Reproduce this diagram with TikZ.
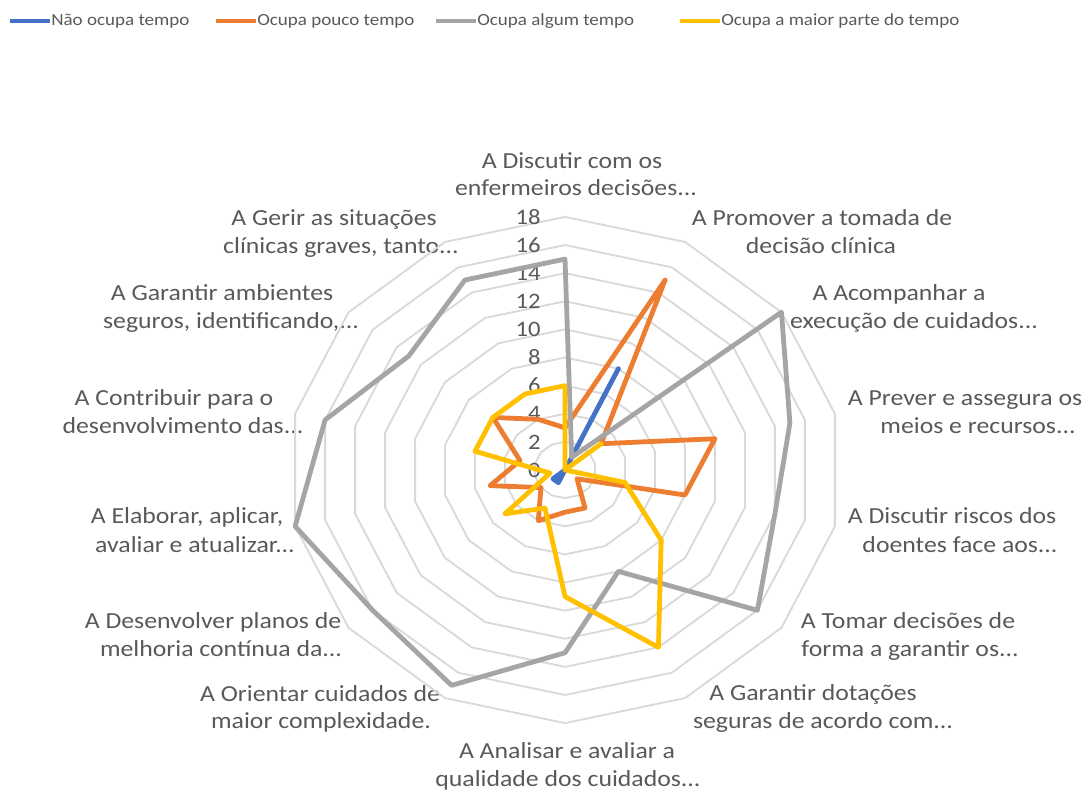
\documentclass[tikz,border=0pt]{standalone}
\usepackage{fontspec}
\setmainfont{Carlito}[FakeStretch=1.12]
\definecolor{txt}{HTML}{595959}
\definecolor{gridc}{HTML}{D9D9D9}
\definecolor{sblue}{HTML}{4472C4}
\definecolor{sorange}{HTML}{ED7D31}
\definecolor{sgray}{HTML}{A5A5A5}
\definecolor{syellow}{HTML}{FFC000}
\begin{document}
\begin{tikzpicture}[x=0.75pt,y=-0.75pt,
  lab/.style={text=txt, font=\fontsize{17.25pt}{20pt}\selectfont, anchor=base, inner sep=0pt},
  ticklab/.style={text=txt, font=\fontsize{16.5pt}{20pt}\selectfont, anchor=east, inner sep=0pt},
  leg/.style={text=txt, font=\fontsize{12.75pt}{15pt}\selectfont, anchor=west, inner sep=0pt},
  ring/.style={draw=gridc, line width=1.4pt},
  ser/.style={line width=3.6pt, line join=round, line cap=round},
]
\useasboundingbox (0,0) rectangle (1088,790);

% legend
\coordinate (lb1) at (10,21); \coordinate (lb2) at (50,21);
\coordinate (lo1) at (216,21); \coordinate (lo2) at (256,21);
\coordinate (lg1) at (436,21); \coordinate (lg2) at (476,21);
\coordinate (ly1) at (680,21); \coordinate (ly2) at (720,21);
\draw[ser, sblue, line cap=butt] (lb1) -- (lb2);
\draw[ser, sorange, line cap=butt] (lo1) -- (lo2);
\draw[ser, sgray, line cap=butt] (lg1) -- (lg2);
\draw[ser, syellow, line cap=butt] (ly1) -- (ly2);
\node[leg] (t1) at (51,21) {Não ocupa tempo};
\node[leg] (t2) at (257,21) {Ocupa pouco tempo};
\node[leg] (t3) at (477,21) {Ocupa algum tempo};
\node[leg] (t4) at (721,21) {Ocupa a maior parte do tempo};

% category labels
\node[lab] (c0a) at (572,168) {A Discutir com os};
\node[lab] (c0b) at (576,195) {enfermeiros decisões...};
\node[lab] (c1a) at (822,225) {A Promover a tomada de};
\node[lab] (c1b) at (821,253) {decisão clínica};
\node[lab] (c2a) at (899,300) {A Acompanhar a};
\node[lab] (c2b) at (914,328) {execução de cuidados...};
\node[lab] (c3a) at (965,405) {A Prever e assegura os};
\node[lab] (c3b) at (978,433) {meios e recursos...};
\node[lab] (c4a) at (952,523) {A Discutir riscos dos};
\node[lab] (c4b) at (960,552) {doentes face aos...};
\node[lab] (c5a) at (908,628) {A Tomar decisões de};
\node[lab] (c5b) at (910,656) {forma a garantir os...};
\node[lab] (c6a) at (813,700) {A Garantir dotações};
\node[lab] (c6b) at (823,728) {seguras de acordo com...};
\node[lab] (c7a) at (567,758) {A Analisar e avaliar a};
\node[lab] (c7b) at (568,786) {qualidade dos cuidados...};
\node[lab] (c8a) at (320,701) {A Orientar cuidados de};
\node[lab] (c8b) at (321,728) {maior complexidade.};
\node[lab] (c9a) at (213,628) {A Desenvolver planos de};
\node[lab] (c9b) at (221,656) {melhoria contínua da...};
\node[lab] (c10a) at (187,523) {A Elaborar, aplicar,};
\node[lab] (c10b) at (195,552) {avaliar e atualizar...};
\node[lab] (c11a) at (174,405) {A Contribuir para o};
\node[lab] (c11b) at (183,433) {desenvolvimento das...};
\node[lab] (c12a) at (222,300) {A Garantir ambientes};
\node[lab] (c12b) at (231,328) {seguros, identificando,...};
\node[lab] (c13a) at (334,225) {A Gerir as situações};
\node[lab] (c13b) at (341,253) {clínicas graves, tanto...};

\begin{scope}[shift={(565,470)}, x=11.535pt, y=10.545pt]
  % grid rings
  \foreach \r in {2,4,...,18} {
    \draw[ring] (90:\r) \foreach \k in {1,...,13} { -- ({90-\k*360/14}:\r) } -- cycle;
  }
  % axis value labels
  \foreach \v in {0,2,...,18} {
    \node[ticklab] (v\v) at (-1.57,\v) {\v};
  }
  % series
  \draw[ser, sblue] (90:0) -- (64.2857:8) -- (38.5714:0) -- (12.8571:0) -- (-12.8571:0)
    -- (-38.5714:0) -- (-64.2857:0) -- (-90:0) -- (-115.7143:1) -- (-141.4286:1)
    -- (-167.1429:0) -- (-192.8571:0) -- (-218.5714:0) -- (-244.2857:0) -- cycle;
  \draw[ser, sorange] (90:3) -- (64.2857:15) -- (38.5714:3) -- (12.8571:10) -- (-12.8571:8)
    -- (-38.5714:1) -- (-64.2857:3) -- (-90:3) -- (-115.7143:4) -- (-141.4286:2)
    -- (-167.1429:5) -- (-192.8571:3) -- (-218.5714:6) -- (-244.2857:4) -- cycle;
  \draw[ser, sgray] (90:15) -- (64.2857:1) -- (38.5714:18) -- (12.8571:15) -- (-12.8571:14)
    -- (-38.5714:16) -- (-64.2857:8) -- (-90:13) -- (-115.7143:17) -- (-141.4286:16)
    -- (-167.1429:18) -- (-192.8571:16) -- (-218.5714:13) -- (-244.2857:15) -- cycle;
  \draw[ser, syellow] (90:6) -- (64.2857:0) -- (38.5714:3) -- (12.8571:0) -- (-12.8571:4)
    -- (-38.5714:8) -- (-64.2857:14) -- (-90:9) -- (-115.7143:3) -- (-141.4286:5)
    -- (-167.1429:1) -- (-192.8571:6) -- (-218.5714:6) -- (-244.2857:6) -- cycle;
\end{scope}
\end{tikzpicture}
\end{document}
